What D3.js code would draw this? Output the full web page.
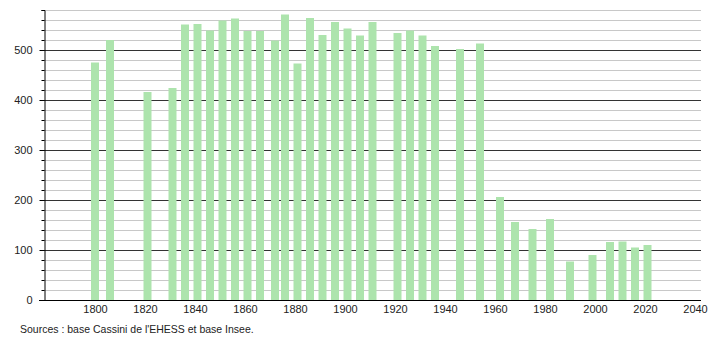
<!DOCTYPE html>
<html><head><meta charset="utf-8">
<script src="https://cdn.jsdelivr.net/npm/d3@7"></script>
<style>body{margin:0;background:#fff}svg{display:block}text{font-family:"Liberation Sans",Arial,sans-serif}</style>
</head><body>
<svg id="c" width="710" height="340"></svg>
<script>
const years = [1800,1806,1821,1831,1836,1841,1846,1851,1856,1861,1866,1872,1876,1881,1886,1891,1896,1901,1906,1911,1921,1926,1931,1936,1946,1954,1962,1968,1975,1982,1990,1999,2006,2011,2016,2021];
const population = [475,520,416,424,551,552,539,559,563,538,538,519,571,473,564,530,556,543,529,556,534,539,529,508,502,513,206,156,142,162,77,90,116,117,105,110];
const yTicks = [0,100,200,300,400,500];
const xTicks = [1800,1820,1840,1860,1880,1900,1920,1940,1960,1980,2000,2020,2040];
const sourceText = "Sources : base Cassini de l'EHESS et base Insee.";

const svg = d3.select("#c");
const x = d3.scaleLinear().domain([1780, 2042.4]).range([45, 701]);
const y = d3.scaleLinear().domain([0, 580]).range([300, 10]);

// minor grid
const minor = d3.range(20, 581, 20).filter(v => v % 100 !== 0);
svg.append("g").selectAll("line").data(minor).join("line")
  .attr("x1", 44).attr("x2", 701).attr("y1", d => y(d)+0.5).attr("y2", d => y(d)+0.5)
  .attr("stroke", "#c8c8c8").attr("stroke-width", 1);
svg.append("g").selectAll("line").data(yTicks.filter(v=>v>0)).join("line")
  .attr("x1", 44).attr("x2", 701).attr("y1", d => y(d)+0.5).attr("y2", d => y(d)+0.5)
  .attr("stroke", "#333").attr("stroke-width", 1);

// bars
svg.append("g").selectAll("rect").data(years).join("rect")
  .attr("x", (d) => x(d) - 4).attr("width", 8)
  .attr("y", (d, i) => y(population[i])).attr("height", (d, i) => y(0) - y(population[i]))
  .attr("fill", "#ade4ad");

// y axis
const ya = svg.append("g").attr("transform", "translate(44.5,0)");
ya.call(d3.axisLeft(y).tickValues(d3.range(0, 581, 20)).tickSize(3).tickFormat(""));
ya.select(".domain").attr("stroke", "#000");
ya.selectAll(".tick line").attr("stroke", "#000");
ya.selectAll(".tick").filter(d => d % 100 === 0).select("line").attr("x2", -5);
ya.append("g").selectAll("text").data(yTicks).join("text")
  .attr("x", -12).attr("y", d => y(d)).attr("dy", "0.35em").attr("text-anchor", "end")
  .attr("font-size", 11).attr("fill", "#222").text(d => d);

// x axis
const xa = svg.append("g").attr("transform", "translate(0,300.5)");
xa.call(d3.axisBottom(x).tickValues(xTicks).tickSize(0).tickFormat(d3.format("d")).tickPadding(5));
xa.select(".domain").attr("d", "M39,0H701").attr("stroke", "#000");
xa.selectAll("text").attr("font-size", 11).attr("fill", "#222").attr("font-family", "Liberation Sans, Arial, sans-serif");

svg.append("text").attr("x", 20).attr("y", 333).attr("font-size", 10.5).attr("fill", "#222").text(sourceText);
</script>
</body></html>
